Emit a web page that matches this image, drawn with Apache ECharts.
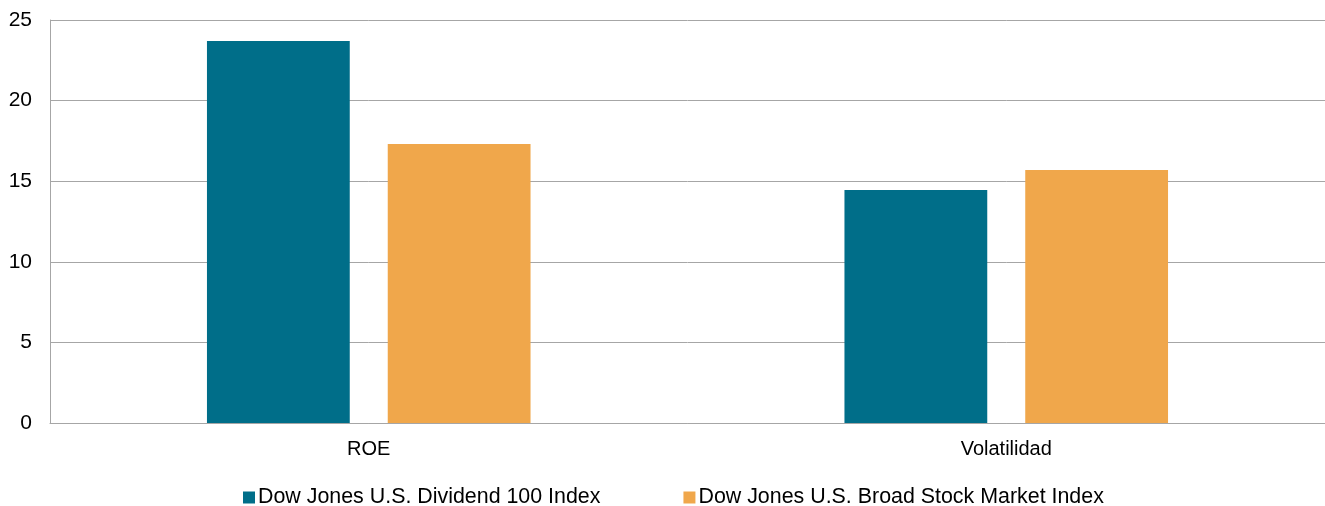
<!DOCTYPE html>
<html>
<head>
<meta charset="utf-8">
<script src="https://cdn.jsdelivr.net/npm/echarts@6/dist/echarts.min.js"></script>
<style>
html,body{margin:0;padding:0;background:#fff;}
#chart{width:1325px;height:506px;}
</style>
</head>
<body>
<div id="chart"></div>
<script>
const categories = ['ROE', 'Volatilidad'];
const seriesNames = ['Dow Jones U.S. Dividend 100 Index', 'Dow Jones U.S. Broad Stock Market Index'];
const dividend100 = [23.7, 14.45];
const broadMarket = [17.3, 15.7];
const yTicks = [0, 5, 10, 15, 20, 25];

const colors = ['#006E89', '#F0A74B'];
const font = '"Liberation Sans", Arial, sans-serif';

const chart = echarts.init(document.getElementById('chart'));
chart.setOption({
  animation: false,
  grid: { left: 50, right: 0, top: 20, bottom: 83, containLabel: false },
  legend: {
    data: seriesNames,
    left: 243,
    top: 487,
    padding: 0,
    itemWidth: 12,
    itemHeight: 12,
    itemGap: 83,
    icon: 'rect',
    textStyle: { fontFamily: font, fontSize: 21.4, color: '#000', padding: [0, 0, 0, -2] }
  },
  xAxis: {
    type: 'category',
    data: categories,
    axisLine: { show: true, lineStyle: { color: '#A6A6A6', width: 1 } },
    axisTick: { show: false },
    axisLabel: { fontFamily: font, fontSize: 20, color: '#000', margin: 16 }
  },
  yAxis: {
    type: 'value',
    min: yTicks[0],
    max: yTicks[yTicks.length - 1],
    interval: yTicks[1] - yTicks[0],
    axisLine: { show: true, lineStyle: { color: '#A6A6A6', width: 1 } },
    axisTick: { show: false },
    splitLine: { show: true, lineStyle: { color: '#A6A6A6', width: 1 } },
    axisLabel: { fontFamily: font, fontSize: 21, color: '#000', margin: 18 }
  },
  series: [
    {
      name: seriesNames[0],
      type: 'bar',
      data: dividend100,
      barWidth: '22.4%',
      barGap: '26.6%',
      itemStyle: { color: colors[0] }
    },
    {
      name: seriesNames[1],
      type: 'bar',
      data: broadMarket,
      barWidth: '22.4%',
      barGap: '26.6%',
      itemStyle: { color: colors[1] }
    }
  ]
});
</script>
</body>
</html>
